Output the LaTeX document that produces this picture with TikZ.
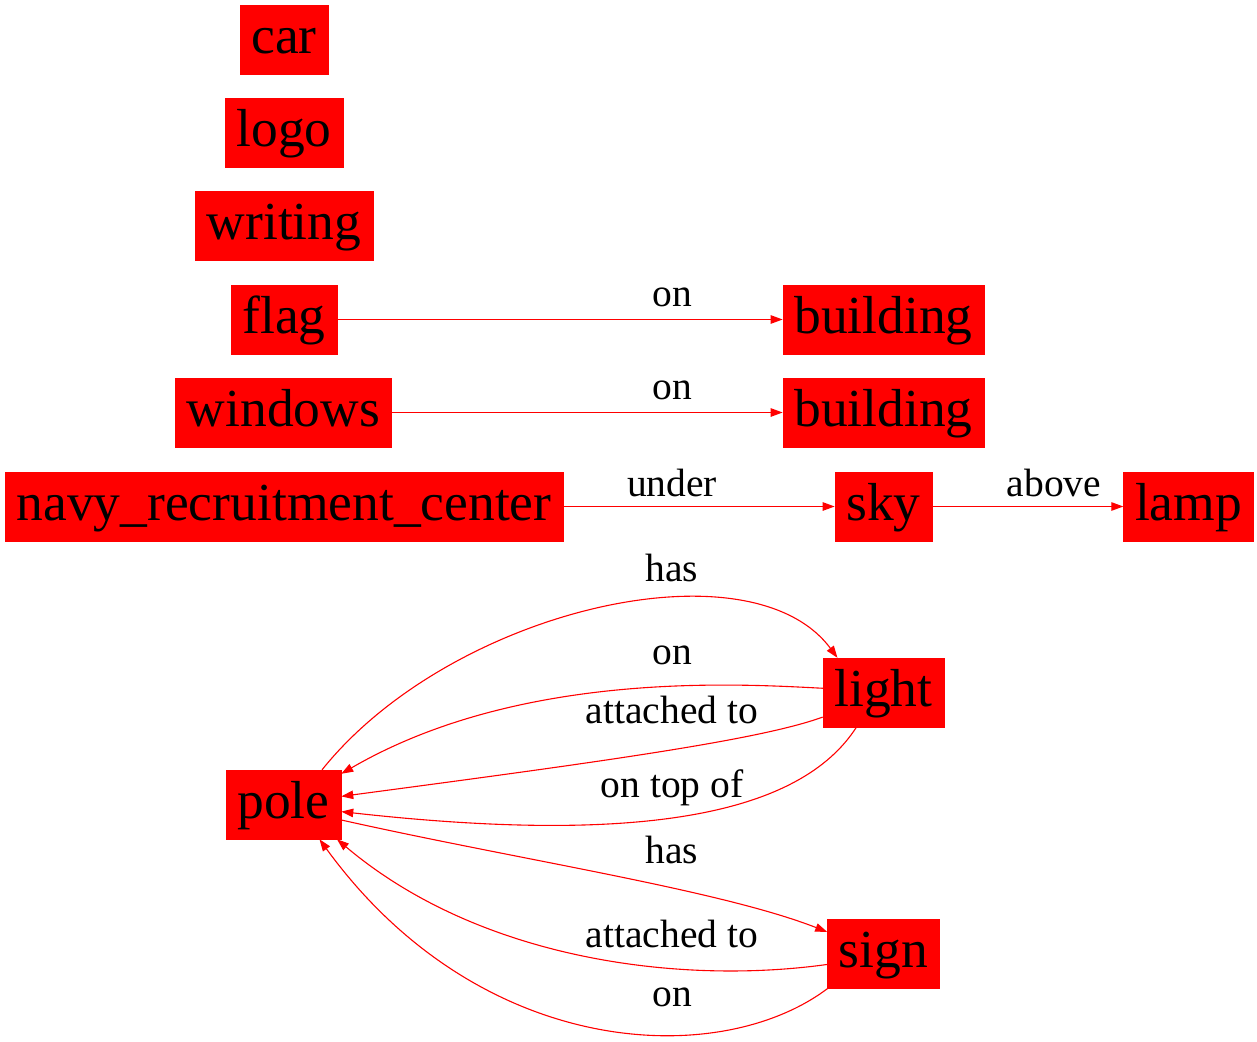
\documentclass[tikz,border=0pt]{standalone}
\usepackage{fontspec}
\setmainfont{Liberation Serif}
\usepackage{tikz}
\usetikzlibrary{arrows.meta}

\begin{document}
\begin{tikzpicture}[x=1pt,y=-1pt,
    obj/.style={rectangle,fill=red,draw=red,text=black,inner xsep=11.5pt,inner ysep=0pt,
        minimum height=69pt,text height=38pt,text depth=11pt,font=\fontsize{53.5}{60}\selectfont},
    lbl/.style={anchor=base,inner sep=0pt,font=\fontsize{39.5}{45}\selectfont},
    rel/.style={color=red,line width=1.1pt,-{Triangle[length=12pt,width=8.5pt]}}]
\useasboundingbox (0,0) rectangle (1257,1041);
\begin{scope}
    \node[obj] (car) at (284,39.5) {car};
    \node[obj] (logo) at (284,132.5) {logo};
    \node[obj] (writing) at (284,226) {writing};
    \node[obj] (flag) at (284,319.5) {flag};
    \node[obj] (windows) at (283.5,412.5) {windows};
    \node[obj] (navy) at (284,506.5) {navy\_recruitment\_center};
    \node[obj] (bldga) at (883.5,319.5) {building};
    \node[obj] (bldgb) at (883.5,412.5) {building};
    \node[obj] (sky) at (883.5,506.5) {sky};
    \node[obj] (lamp) at (1188.5,506.5) {lamp};
    \node[obj] (light) at (883.5,692.5) {light};
    \node[obj] (pole) at (283.5,804.5) {pole};
    \node[obj] (sign) at (883.5,953.5) {sign};

    \path [rel] (flag) edge (bldga);
    \path [rel] (windows) edge (bldgb);
    \path [rel] (navy) edge (sky);
    \path [rel] (sky) edge (lamp);

    \draw [rel] (pole.42) .. controls (450,610) and (750,540) .. (light.143);
    \draw [rel] (light.176) .. controls (740,684) and (520,670) .. (pole.28);
    \draw [rel] (light.-158) .. controls (760,740) and (600,762) .. (pole.8);
    \draw [rel] (light.232) .. controls (800,815) and (640,845) .. (pole.-7);
    \draw [rel] (pole.-15) .. controls (520,860) and (720,890) .. (sign.159);
    \draw [rel] (sign.191) .. controls (680,985) and (480,960) .. (pole.-33);
    \draw [rel] (sign.212) .. controls (720,1070) and (480,1060) .. (pole.-44);

    \node[lbl] (lflag) at (672,306) {on};
    \node[lbl] (lwin) at (672,399) {on};
    \node[lbl] (lnavy) at (672,496) {under};
    \node[lbl] (lsky) at (1054,496) {above};
    \node[lbl] (lhas) at (672,581) {has};
    \node[lbl] (lon) at (672,664) {on};
    \node[lbl] (latt) at (672,723) {attached to};
    \node[lbl] (ltop) at (672,797) {on top of};
    \node[lbl] (lhasb) at (672,863) {has};
    \node[lbl] (lattb) at (672,947) {attached to};
    \node[lbl] (lonb) at (672,1006) {on};
\end{scope}
\end{tikzpicture}
\end{document}
